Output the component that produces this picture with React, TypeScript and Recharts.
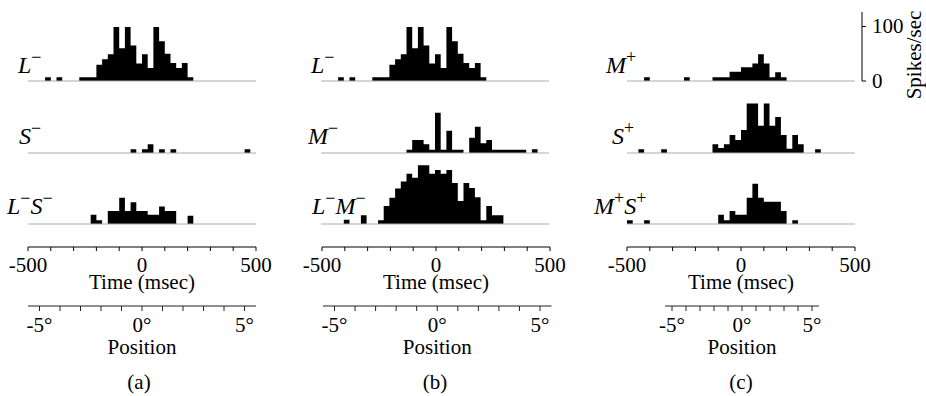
import React from 'react';
import { AreaChart, Area, XAxis, YAxis, ReferenceLine, ComposedChart } from 'recharts';

const FONT = '"Liberation Serif", "Times New Roman", serif';

// 25 ms bins from -500 to 475 (bin start, msec)
const binStartMs = [-500,-475,-450,-425,-400,-375,-350,-325,-300,-275,-250,-225,-200,-175,-150,-125,-100,-75,-50,-25,0,25,50,75,100,125,150,175,200,225,250,275,300,325,350,375,400,425,450,475];
const binEndMs = 500;

// spikes/sec per bin
const lMinus = [0,0,0,7,0,7,0,0,0,7, 7,7,30,40,49,99,60,99,65,32, 49,24,99,73,50,33,24,33,7,0, 0,0,0,0,0,0,0,0,0,0];
const sMinus = [0,0,0,0,0,0,0,0,0,0, 0,0,0,0,0,0,0,0,7,0, 7,16,0,7,0,7,0,0,0,0, 0,0,0,0,0,0,0,0,7,0];
const lsMinus = [0,0,0,0,0,0,0,0,0,0, 0,17,7,0,24,24,48,24,40,24, 24,17,17,32,24,24,0,0,15,0, 0,0,0,0,0,0,0,0,0,0];
const mMinus = [0,0,0,0,0,0,0,0,0,0, 0,0,0,0,0,6,24,24,16,6, 74,6,41,6,6,0,28,48,18,24, 6,6,6,6,6,6,0,7,0,0];
const lmMinus = [0,0,0,0,8,0,0,16,0,0, 7,33,48,65,78,92,85,108,108,92, 99,92,99,75,42,75,66,49,7,33, 16,16,0,0,0,0,0,0,0,0];
const mPlus = [0,0,0,7,0,0,0,0,0,0, 7,0,0,0,0,7,7,7,17,17, 25,25,32,49,32,7,16,7,0,0, 0,0,0,0,0,0,0,0,0,0];
const sPlus = [0,0,7,0,0,0,7,0,0,0, 0,0,0,0,0,16,9,16,33,24, 42,91,91,50,91,50,66,33,8,33, 16,0,0,7,0,0,0,0,0,0];
const msPlus = [7,0,0,7,0,0,0,0,0,0, 0,0,0,0,0,0,17,7,24,17, 17,48,74,48,41,41,41,24,0,7, 0,0,0,0,0,0,0,0,0,0];

// axes
const timeTicks = [-500,-400,-300,-200,-100,0,100,200,300,400,500];
const timeLabeled = [-500, 0, 500];
const posTicks = [-5,-4,-3,-2,-1,0,1,2,3,4,5];
const posLabeled = [-5, 0, 5];
const rateTicks = [0, 100];
const Y_MAX = 126.6;

const MINUS = '\u2212';
const PLUS = '+';

type PanelDef = { values: number[]; parts: [string, string][]; lx: number; ly: number };
type ColDef = {
  panelLeft: number; timeLeft: number; posLeft: number; posWidth: number; posHalf: number;
  caption: string; captionX: number; panels: PanelDef[];
};

const ROW_BASELINES = [81, 152.5, 223.5];
const PLOT_H = 69;
const PANEL_W = 228;
const FS = 21;

const columns: ColDef[] = [
  {
    panelLeft: 27.5, timeLeft: 28, posLeft: 28, posWidth: 228, posHalf: 5.56, caption: '(a)', captionX: 139,
    panels: [
      { values: lMinus, parts: [['L', MINUS]], lx: 18, ly: 73 },
      { values: sMinus, parts: [['S', MINUS]], lx: 19, ly: 143.5 },
      { values: lsMinus, parts: [['L', MINUS], ['S', MINUS]], lx: 7, ly: 214 },
    ],
  },
  {
    panelLeft: 321, timeLeft: 322, posLeft: 322.5, posWidth: 228.5, posHalf: 5.56, caption: '(b)', captionX: 435,
    panels: [
      { values: lMinus, parts: [['L', MINUS]], lx: 311, ly: 73 },
      { values: mMinus, parts: [['M', MINUS]], lx: 308, ly: 144 },
      { values: lmMinus, parts: [['L', MINUS], ['M', MINUS]], lx: 312, ly: 214 },
    ],
  },
  {
    panelLeft: 626.5, timeLeft: 626.5, posLeft: 664.5, posWidth: 154, posHalf: 5.5, caption: '(c)', captionX: 741,
    panels: [
      { values: mPlus, parts: [['M', PLUS]], lx: 606, ly: 73 },
      { values: sPlus, parts: [['S', PLUS]], lx: 612, ly: 143.5 },
      { values: msPlus, parts: [['M', PLUS], ['S', PLUS]], lx: 594, ly: 214 },
    ],
  },
];

function Histogram({ values, left, baseline }: { values: number[]; left: number; baseline: number }) {
  const data = [...binStartMs.map((t, i) => ({ t, v: values[i] })), { t: binEndMs, v: 0 }];
  return (
    <div style={{ position: 'absolute', left, top: baseline - PLOT_H, width: PANEL_W, height: PLOT_H + 2 }}>
      <AreaChart width={PANEL_W} height={PLOT_H + 2} data={data} margin={{ top: 0, right: 0, bottom: 2, left: 0 }}>
        <XAxis type="number" dataKey="t" domain={[-500, 500]} hide />
        <YAxis type="number" domain={[0, Y_MAX]} hide allowDataOverflow />
        <ReferenceLine y={0} stroke="#ababab" strokeWidth={1} />
        <Area type="stepAfter" dataKey="v" fill="#000" fillOpacity={1} stroke="none" baseValue={0}
          dot={false} activeDot={false} isAnimationActive={false} />
      </AreaChart>
    </div>
  );
}

// tick renderers with explicit serif font
function makeXTick(fmt: (v: number) => string, dy: number) {
  return (props: any) => {
    const { x, y, payload } = props;
    const s = fmt(payload.value);
    if (!s) return <g />;
    return (
      <text x={x} y={y + dy} textAnchor="middle" fontFamily={FONT} fontSize={FS} fill="#000">{s}</text>
    );
  };
}

function makeAxisTitle(text: string, offset: number) {
  return (props: any) => {
    const vb = props.viewBox || {};
    return (
      <text x={vb.x + vb.width / 2} y={vb.y + vb.height - offset} textAnchor="middle"
        fontFamily={FONT} fontSize={FS} fill="#000">{text}</text>
    );
  };
}

const timeTick = makeXTick((v) => (timeLabeled.includes(v) ? String(v) : ''), 14.5);
const posTick = makeXTick((v) => (posLabeled.includes(v) ? `${v}°` : ''), 14.5);

function TimeAxis({ left }: { left: number }) {
  const ML = 30, MR = 30, W = 228;
  return (
    <div style={{ position: 'absolute', left: left - ML, top: 246 }}>
      <ComposedChart width={W + ML + MR} height={63} data={timeTicks.map((t) => ({ t }))}
        margin={{ top: 0, right: MR, bottom: 0, left: ML }}>
        <XAxis type="number" dataKey="t" domain={[-500, 500]} ticks={timeTicks} interval={0}
          height={62} tickSize={4} tickMargin={6}
          axisLine={{ stroke: '#000' }} tickLine={{ stroke: '#000' }} tick={timeTick}
          label={{ content: makeAxisTitle('Time (msec)', 20) }} />
        <YAxis hide domain={[0, 1]} />
      </ComposedChart>
    </div>
  );
}

function PosAxis({ left, width, half }: { left: number; width: number; half: number }) {
  const ML = 30, MR = 30;
  return (
    <div style={{ position: 'absolute', left: left - ML, top: 304.5 }}>
      <ComposedChart width={width + ML + MR} height={61} data={posTicks.map((p) => ({ p }))}
        margin={{ top: 0, right: MR, bottom: 0, left: ML }}>
        <XAxis type="number" dataKey="p" domain={[-half, half]} ticks={posTicks} interval={0}
          allowDataOverflow height={60} tickSize={5} tickMargin={6}
          axisLine={{ stroke: '#222' }} tickLine={{ stroke: '#222' }} tick={posTick}
          label={{ content: makeAxisTitle('Position', 12.5) }} />
        <YAxis hide domain={[0, 1]} />
      </ComposedChart>
    </div>
  );
}

function rateTick(props: any) {
  const { x, y, payload } = props;
  return (
    <text x={x} y={y + 7} textAnchor="start" fontFamily={FONT} fontSize={FS} fill="#000">{String(payload.value)}</text>
  );
}

function RateScale() {
  return (
    <div style={{ position: 'absolute', left: 852, top: 2 }}>
      <ComposedChart width={74} height={95} data={rateTicks.map((r) => ({ r }))}
        margin={{ top: 10, right: 0, bottom: 16, left: 0 }}>
        <XAxis hide dataKey="r" />
        <YAxis orientation="right" type="number" domain={[0, Y_MAX]} ticks={rateTicks} interval={0}
          width={64} tickSize={4} tickMargin={6} allowDataOverflow
          axisLine={{ stroke: '#000' }} tickLine={{ stroke: '#000' }} tick={rateTick} />
      </ComposedChart>
    </div>
  );
}

function PanelLabel({ p }: { p: PanelDef }) {
  return (
    <text x={p.lx} y={p.ly} fontFamily={FONT} fontSize={24} fill="#000">
      {p.parts.map(([base, sup], i) => (
        <React.Fragment key={i}>
          <tspan dy={i === 0 ? 0 : 10} fontStyle="italic">{base}</tspan>
          <tspan dy={-10} fontSize={18}>{sup}</tspan>
        </React.Fragment>
      ))}
    </text>
  );
}

export default function App() {
  return (
    <div style={{ position: 'absolute', left: 0, top: 0, width: 926, height: 396, overflow: 'hidden', background: '#fff', fontFamily: FONT }}>
      {columns.map((c, ci) => (
        <React.Fragment key={ci}>
          {c.panels.map((p, ri) => (
            <Histogram key={ri} values={p.values} left={c.panelLeft} baseline={ROW_BASELINES[ri]} />
          ))}
          <TimeAxis left={c.timeLeft} />
          <PosAxis left={c.posLeft} width={c.posWidth} half={c.posHalf} />
        </React.Fragment>
      ))}
      <RateScale />
      <svg width={926} height={396} style={{ position: 'absolute', left: 0, top: 0, pointerEvents: 'none' }}>
        {columns.map((c, ci) => (
          <React.Fragment key={ci}>
            {c.panels.map((p, ri) => <PanelLabel key={ri} p={p} />)}
            <text x={c.captionX} y={389} textAnchor="middle" fontFamily={FONT} fontSize={FS} fill="#000">{c.caption}</text>
          </React.Fragment>
        ))}
        <text transform="translate(921,55) rotate(-90)" textAnchor="middle" fontFamily={FONT} fontSize={FS} fill="#000">Spikes/sec</text>
      </svg>
    </div>
  );
}
